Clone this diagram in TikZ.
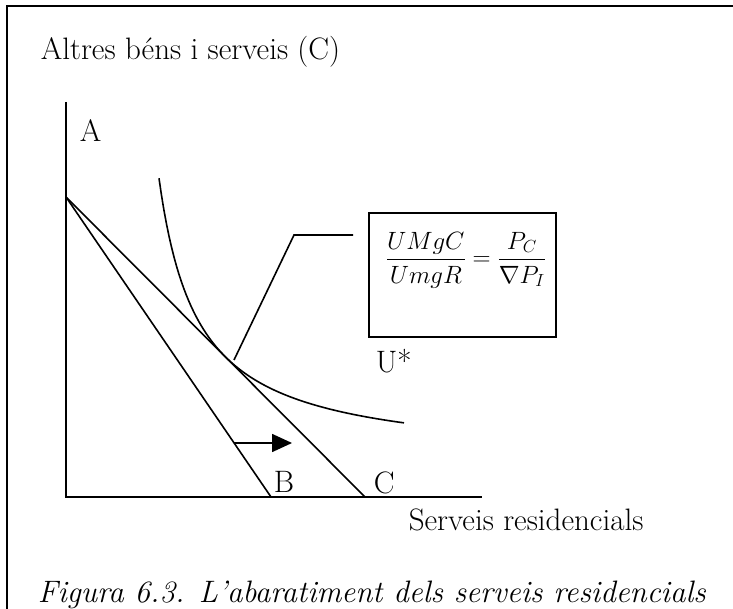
\RequirePackage{fix-cm}
\documentclass[tikz,border=0pt]{standalone}
\usepackage{fontspec}
\usepackage{amsmath, amssymb}
\usepackage{tikz}
\usetikzlibrary{arrows.meta}

\begin{document}
\begin{tikzpicture}[x=1pt, y=-1pt, line width=1.6pt,
				lbl/.style={anchor=base west, inner sep=0pt},
				>={Triangle[length=20pt, width=18pt]},   %Pfeilspitze
				font=\fontsize{31}{37}\selectfont]
				\useasboundingbox (0,0) rectangle (733,609);
				% Rahmen
				\draw (7,609) -- (7,6) -- (733,6);
				% Punkte
				\coordinate (O) at (66,497);
				\coordinate (ytop) at (66,102);
				\coordinate (xend) at (482,497);
				\coordinate (A) at (66,197);
				\coordinate (B) at (271,497);
				\coordinate (C) at (365,497);
				% Achsen zeichnen
				\draw (ytop) -- (O) -- (xend);
				% Budgetgeraden
				\draw (A) -- (B);
				\draw (A) -- (C);
				% Indifferenzkurve U*
				\draw[domain=159:404, samples=100] plot (\x, {461.8-11058/(\x-120)});
				% Verschiebung
				\coordinate (s1) at (234,443);
				\coordinate (s2) at (292,443);
				\draw[->] (s1) -- (s2);
				% Kasten mit Bedingung
				\node[draw, anchor=north west, minimum width=187pt, minimum height=124pt, inner sep=0pt] (box) at (368,212) {};
				\node[inner sep=0pt, font=\fontsize{25}{30}\selectfont] (eq) at (466,260) {$\displaystyle\frac{UMgC}{UmgR}=\frac{P_C}{\nabla P_I}$};
				\coordinate (t1) at (234,360);
				\coordinate (t2) at (294,235);
				\coordinate (t3) at (353,235);
				\draw (t1) -- (t2) -- (t3);
				% Beschriftung
				\node[lbl] (ylabel) at (40,60) {Altres béns i serveis (C)};
				\node[lbl] (labA) at (79,142) {A};
				\node[lbl] (labB) at (273,492) {B};
				\node[lbl] (labC) at (373,493) {C};
				\node[lbl] (labU) at (375,372) {U*};
				\node[lbl] (xlabel) at (408,530) {Serveis residencials};
				\node[lbl, font=\fontsize{31}{37}\selectfont\itshape] (caption) at (37,602) {Figura 6.3. L'abaratiment dels serveis residencials};
\end{tikzpicture}
\end{document}
